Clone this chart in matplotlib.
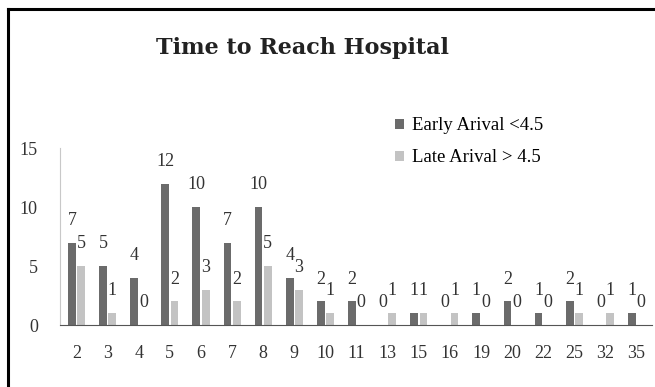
import numpy as np
import matplotlib.pyplot as plt
from matplotlib.lines import Line2D

categories = ['2', '3', '4', '5', '6', '7', '8', '9', '10', '11', '13', '15',
              '16', '19', '20', '22', '25', '32', '35']
early = [7, 5, 4, 12, 10, 7, 10, 4, 2, 2, 0, 1, 0, 1, 2, 1, 2, 0, 1]
late = [5, 1, 0, 2, 3, 2, 5, 3, 1, 0, 1, 1, 1, 0, 0, 0, 1, 1, 0]

plt.rcParams['font.family'] = ['Liberation Serif', 'DejaVu Serif']

fig = plt.figure(figsize=(6.55, 3.87), dpi=100)
ax = fig.add_axes([0.0916, 0.160, 0.904, 0.457])

x = np.arange(len(categories))
w = 0.25
b1 = ax.bar(x - 0.15, early, w, color='#6b6b6b', label='Early Arival <4.5')
b2 = ax.bar(x + 0.15, late, w, color='#c3c3c3', label='Late Arival > 4.5')

for bars, vals in ((b1, early), (b2, late)):
    for rect, v in zip(bars, vals):
        ax.annotate(str(v), (rect.get_x() + rect.get_width() / 2, v),
                    xytext=(0, 10), textcoords='offset points',
                    ha='center', va='bottom', fontsize=13, color='#333333')

ax.set_ylim(0, 15)
ax.set_xlim(-0.53, len(categories) - 0.5)
ax.set_yticks([0, 5, 10, 15])
ax.set_xticks(x)
ax.set_xticklabels(categories)
ax.tick_params(axis='both', length=0, labelsize=13, colors='#333333')
ax.tick_params(axis='x', pad=14)
ax.tick_params(axis='y', pad=16)

for s in ('top', 'right'):
    ax.spines[s].set_visible(False)
ax.spines['left'].set_color('#c8c8c8')
ax.spines['bottom'].set_color('#555555')

ax.legend(loc='upper left', bbox_to_anchor=(0.538, 1.27), frameon=False,
          fontsize=13.5, handlelength=0.45, handleheight=0.45,
          handletextpad=0.45, labelspacing=0.8)

fig.text(0.462, 0.876, 'Time to Reach Hospital', ha='center', va='center',
         fontsize=16, fontweight='bold', family='DejaVu Serif', color='#222222')

fig.add_artist(Line2D([0.0128, 1.0], [0.978, 0.978], color='black', lw=2.2))
fig.add_artist(Line2D([0.0128, 0.0128], [0.0, 0.978], color='black', lw=2.2))

fig.savefig('out.png', dpi=100)
